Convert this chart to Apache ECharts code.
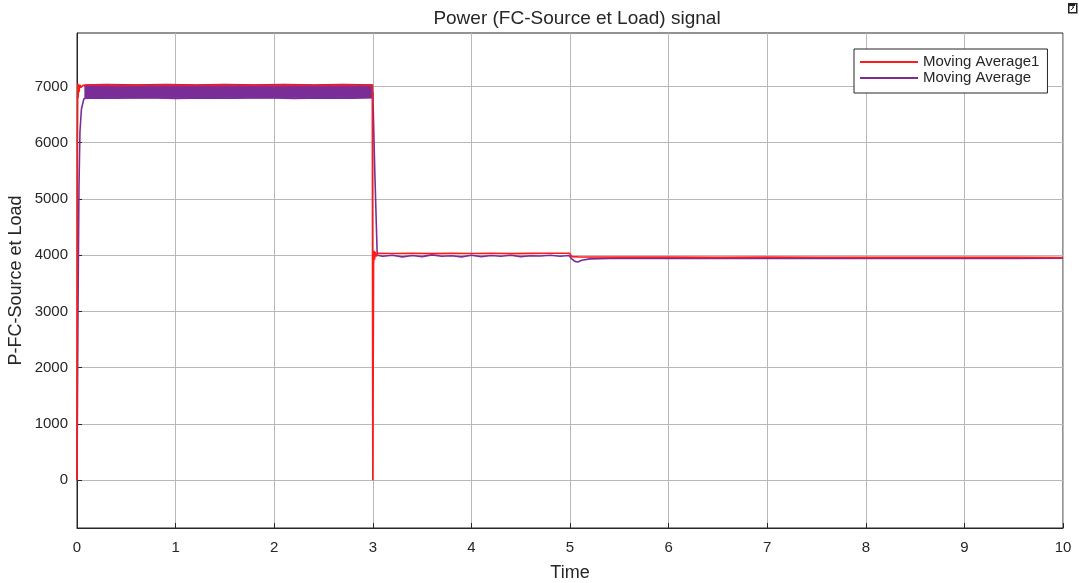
<!DOCTYPE html>
<html>
<head>
<meta charset="utf-8">
<script src="https://cdn.jsdelivr.net/npm/echarts@6/dist/echarts.min.js"></script>
<style>
html,body{margin:0;padding:0;background:#fff;}
#chart{width:1079px;height:583px;}
</style>
</head>
<body>
<div id="chart"></div>
<script>
// ---- Data ----
const titleText = 'Power (FC-Source et Load) signal';
const xName = 'Time';
const yName = 'P-FC-Source et Load';
const seriesNames = ['Moving Average1', 'Moving Average'];
const yTicks = [0, 1000, 2000, 3000, 4000, 5000, 6000, 7000];

// Moving Average1 (red)
const redT = [0, 0.004, 0.008, 0.012, 0.016, 0.02, 0.03, 0.04, 0.06, 0.2, 0.4, 0.6, 0.8, 1.0, 1.2, 1.4, 1.6, 1.8, 2.0, 2.2, 2.4, 2.6, 2.8, 2.995,
  3.0, 3.003, 3.008, 3.013, 3.018, 3.025, 3.035, 3.05, 3.2, 3.4, 3.6, 3.8, 4.0, 4.2, 4.4, 4.6, 4.8, 4.995,
  5.02, 5.1, 5.5, 6, 6.5, 7, 7.5, 8, 8.5, 9, 9.5, 10];
const redY = [0, 5900, 7050, 6800, 7040, 6900, 7030, 6980, 7020, 7020, 7015, 7022, 7018, 7020, 7016, 7022, 7018, 7020, 7015, 7020, 7018, 7022, 7016, 7020,
  0, 0, 3850, 4080, 3920, 4060, 3980, 4035, 4030, 4035, 4028, 4032, 4030, 4034, 4028, 4032, 4035, 4035,
  3975, 3968, 3965, 3965, 3962, 3965, 3963, 3962, 3964, 3962, 3963, 3960];

// Moving Average (purple)
const purT = [0, 0.01, 0.02, 0.03, 0.045, 0.07, 0.1, 0.4, 0.7, 1.0, 1.3, 1.6, 1.9, 2.2, 2.5, 2.8, 2.99,
  3.0, 3.02, 3.045, 3.1, 3.2, 3.3, 3.4, 3.5, 3.6, 3.7, 3.8, 3.9, 4.0, 4.1, 4.2, 4.3, 4.4, 4.5, 4.6, 4.7, 4.8, 4.9, 4.99,
  5.02, 5.05, 5.08, 5.12, 5.2, 5.4, 6, 6.5, 7, 7.5, 8, 8.5, 9, 9.5, 10];
const purY = [0, 3000, 5200, 6200, 6600, 6780, 6795, 6790, 6800, 6785, 6795, 6790, 6800, 6785, 6795, 6790, 6800,
  6900, 5500, 4000, 3980, 4000, 3970, 3995, 3975, 4005, 3980, 3990, 3970, 4000, 3975, 3995, 3980, 4000, 3975, 3990, 3985, 4000, 3980, 3995,
  3930, 3890, 3880, 3910, 3935, 3940, 3942, 3940, 3943, 3940, 3942, 3940, 3943, 3941, 3945];

// Oscillation envelope of the purple signal (0.08 s .. 3 s)
const bandT = [0.08, 0.3, 0.6, 0.9, 1.2, 1.5, 1.8, 2.1, 2.4, 2.7, 3.0];
const bandLow = [6790, 6800, 6795, 6800, 6795, 6800, 6795, 6800, 6795, 6800, 6800];
const bandHigh = [7030, 7040, 7030, 7040, 7030, 7040, 7030, 7040, 7030, 7040, 7030];

const RED = '#ff1a1a';
const PURPLE = '#7b2d97';
const TXT = '#262626';
const FONT = '"Liberation Sans", Arial, sans-serif';

const zip = (a, b) => a.map((v, i) => [v, b[i]]);

const chart = echarts.init(document.getElementById('chart'), null, {renderer: 'canvas'});
chart.setOption({
  animation: false,
  backgroundColor: '#ffffff',
  textStyle: {fontFamily: FONT},
  title: {
    text: titleText,
    left: 572, top: 4, textAlign: 'center',
    textStyle: {fontSize: 19, fontWeight: 'normal', color: TXT, fontFamily: FONT}
  },
  grid: {
    left: 77, right: 16, top: 33, bottom: 55,
    outerBoundsMode: 'none', containLabel: false,
    show: true, borderColor: TXT, borderWidth: 1, backgroundColor: 'transparent'
  },
  legend: {
    data: seriesNames,
    orient: 'vertical',
    left: 854, top: 49,
    padding: [5, 8, 7, 6],
    itemGap: 0,
    itemWidth: 58, itemHeight: 2,
    icon: 'rect',
    borderColor: TXT, borderWidth: 1,
    backgroundColor: '#ffffff',
    textStyle: {fontSize: 15, color: TXT, fontFamily: FONT, lineHeight: 16}
  },
  xAxis: {
    type: 'value',
    min: 0, max: 10, interval: 1,
    name: xName, nameLocation: 'middle', nameGap: 36, nameMoveOverlap: false,
    nameTextStyle: {fontSize: 18, color: TXT, fontFamily: FONT},
    axisLine: {show: true, onZero: false, lineStyle: {color: TXT, width: 1}},
    axisTick: {show: true, inside: true, length: 5, lineStyle: {color: TXT}},
    axisLabel: {fontSize: 15, color: TXT, margin: 12, fontFamily: FONT},
    splitLine: {show: true, lineStyle: {color: '#b8b8b8', width: 1}}
  },
  yAxis: {
    type: 'value',
    min: -850, max: 7950,
    name: yName, nameLocation: 'middle', nameGap: 52, nameMoveOverlap: false,
    nameTextStyle: {fontSize: 18, color: TXT, fontFamily: FONT},
    axisLine: {show: true, onZero: false, lineStyle: {color: TXT, width: 1}},
    axisTick: {show: true, inside: true, length: 5, customValues: yTicks, lineStyle: {color: TXT}},
    axisLabel: {fontSize: 15, color: TXT, margin: 9, customValues: yTicks, fontFamily: FONT,
      formatter: v => String(v)},
    splitLine: {show: true, lineStyle: {color: '#b8b8b8', width: 1}}
  },
  series: [
    {
      name: 'band', type: 'custom', silent: true, clip: true, z: 2,
      data: bandT.map((t, i) => [t, bandLow[i], bandHigh[i]]),
      encode: {x: 0, y: [1, 2]},
      renderItem: (params, api) => {
        if (params.dataIndex !== 0) return null;
        const n = bandT.length;
        const pts = [];
        for (let i = 0; i < n; i++) pts.push(api.coord([api.value(0, i), api.value(1, i)]));
        for (let i = n - 1; i >= 0; i--) pts.push(api.coord([api.value(0, i), api.value(2, i)]));
        return {type: 'polygon', shape: {points: pts}, style: {fill: PURPLE, stroke: PURPLE, lineWidth: 1}};
      }
    },
    {
      name: seriesNames[1], type: 'line',
      data: zip(purT, purY), symbol: 'none',
      itemStyle: {color: PURPLE},
      lineStyle: {color: PURPLE, width: 1.6}, z: 3
    },
    {
      name: seriesNames[0], type: 'line',
      data: zip(redT, redY), symbol: 'none',
      itemStyle: {color: RED},
      lineStyle: {color: RED, width: 1.6}, z: 4
    }
  ],
  graphic: [
    {type: 'rect', left: 1068, top: 3, shape: {width: 8, height: 9}, style: {fill: '#fff', stroke: '#222', lineWidth: 1.5}},
    {type: 'rect', left: 1069, top: 4, shape: {width: 6, height: 2}, style: {fill: '#222'}},
    {type: 'polyline', shape: {points: [[1071, 10], [1074, 7], [1072, 7]]}, style: {stroke: '#222', lineWidth: 1, fill: null}}
  ]
});
</script>
</body>
</html>
